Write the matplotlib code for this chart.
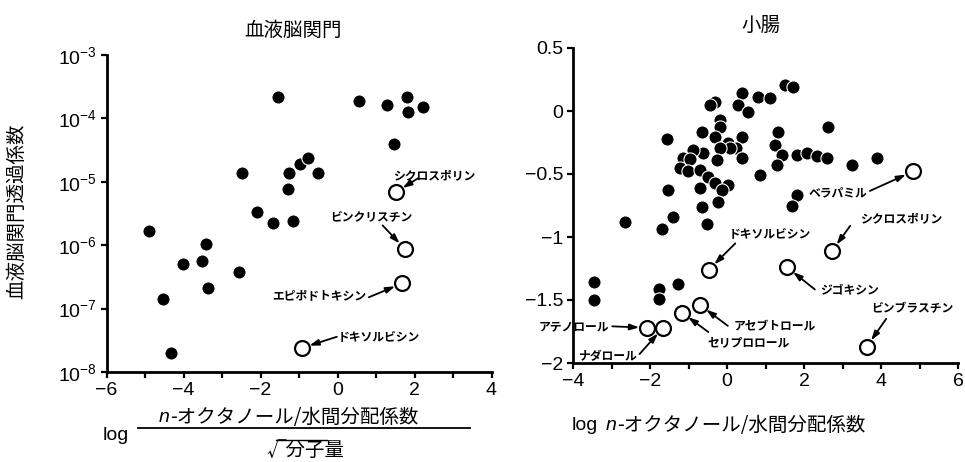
import matplotlib
matplotlib.use("Agg")
import matplotlib.pyplot as plt
from matplotlib.ticker import FixedLocator, NullLocator, FuncFormatter
from matplotlib.lines import Line2D

plt.rcParams['font.family'] = ['Liberation Sans', 'Noto Sans CJK JP', 'DejaVu Sans']
plt.rcParams['mathtext.fontset'] = 'custom'
plt.rcParams['mathtext.rm'] = 'Liberation Sans'
plt.rcParams['axes.unicode_minus'] = True

JP = ['Noto Sans CJK JP', 'DejaVu Sans']

# 血液脳関門 (左): 黒丸
bbb_x = [-1.55, 0.56, 1.29, 1.81, 1.83, 2.22, 1.47, -2.48, -1.26, -0.97, -0.77, -0.51,
         -1.29, -2.09, -1.68, -1.16, -4.90, -3.42, -4.01, -3.52, -2.56, -3.36, -4.53, -4.32]
bbb_p = [2.2e-4, 1.9e-4, 1.6e-4, 2.2e-4, 1.26e-4, 1.5e-4, 4.0e-5, 1.4e-5, 1.4e-5, 1.9e-5,
         2.4e-5, 1.4e-5, 7.7e-6, 3.3e-6, 2.2e-6, 2.4e-6, 1.65e-6, 1.04e-6, 5.0e-7, 5.6e-7,
         3.8e-7, 2.1e-7, 1.4e-7, 2.0e-8]
# 白丸 (名前付き)
bbb_names = ['シクロスポリン', 'ビンクリスチン', 'エピポドトキシン', 'ドキソルビシン']
bbb_open_x = [1.52, 1.75, 1.68, -0.92]
bbb_open_p = [6.9e-6, 8.7e-7, 2.5e-7, 2.4e-8]

# 小腸 (右): 黒丸
si_x = [0.39, 0.81, 1.12, -0.31, -0.44, 0.29, 0.55, -0.18, -0.18, -1.56, -0.65, -0.31,
        0.39, 0.03, 0.23, 0.08, -0.18, -0.62, -0.88, -1.14, -0.96, -0.26, 0.39, -1.22,
        -1.01, -0.70, -0.49, -0.31, 0.03, -0.13, -0.70, -1.53, -0.23, -0.65, 0.86, -1.40,
        1.25, 1.32, 1.51, 1.71, 1.43, 1.82, 2.08, 2.34, 2.60, 2.62, 3.25, 3.90, 1.30,
        1.82, 1.69, -1.69, -2.65, -0.52, -3.45, -3.45, -1.77, -1.77, -1.27]
si_y = [0.14, 0.11, 0.10, 0.07, 0.05, 0.05, -0.01, -0.07, -0.13, -0.22, -0.17, -0.21,
        -0.21, -0.25, -0.29, -0.29, -0.29, -0.33, -0.31, -0.37, -0.38, -0.39, -0.37, -0.45,
        -0.48, -0.47, -0.52, -0.57, -0.59, -0.63, -0.61, -0.63, -0.72, -0.76, -0.51, -0.84,
        -0.27, -0.17, 0.21, 0.19, -0.35, -0.35, -0.33, -0.36, -0.37, -0.13, -0.43, -0.37, -0.43,
        -0.67, -0.75, -0.94, -0.88, -0.90, -1.36, -1.50, -1.41, -1.49, -1.37]
# 白丸 (名前付き)
si_names = ['ベラパミル', 'シクロスポリン', 'ドキソルビシン', 'ジゴキシン', 'ビンブラスチン',
            'アセブトロール', 'セリプロロール', 'アテノロール', 'ナダロール']
si_open_x = [4.83, 2.73, -0.47, 1.56, 3.63, -0.70, -1.17, -2.08, -1.66]
si_open_y = [-0.48, -1.11, -1.26, -1.24, -1.87, -1.54, -1.60, -1.72, -1.72]

# ラベル配置 (offset points): text offset, ha, arrow start
bbb_layout = [((-2, 12), 'left', (16, 10)),
              ((-24, 23), 'center', (-16, 17)),
              ((-26, -9), 'right', (-24, -10)),
              ((26, 8), 'left', (25, 8))]
si_layout = [((-33, -15), 'right', (-31, -14)),
             ((50, 23), 'center', (13, 18)),
             ((44, 26), 'center', (19, 19)),
             ((24, -17), 'left', (20, -16)),
             ((33, 27), 'center', (14, 20)),
             ((24, -15), 'left', (20, -15)),
             ((18, -22), 'left', (19, -14)),
             ((-27, 1), 'right', (-25, 1)),
             ((-18, -21), 'right', (-17, -19))]

W, H = 965, 462
fig = plt.figure(figsize=(9.65, 4.62), dpi=100)
ax1 = fig.add_axes([106.5 / W, 1 - 372 / H, 385 / W, 317 / H])
ax2 = fig.add_axes([573 / W, 1 - 363 / H, 385 / W, 315 / H])


def fmt(v, p):
    return '{:g}'.format(v).replace('-', '\u2212')


def style_axes(ax):
    for s in ['top', 'right']:
        ax.spines[s].set_visible(False)
    for s in ['left', 'bottom']:
        ax.spines[s].set_linewidth(2.0)
        ax.spines[s].set_clip_on(False)
    ax.tick_params(which='both', direction='out', width=1.6, length=4, labelsize=14, pad=3)
    ax.patch.set_alpha(0)


def label_points(ax, xs, ys, names, layout):
    for x, y, name, (toff, ha, aoff) in zip(xs, ys, names, layout):
        ax.annotate(name, xy=(x, y), xytext=toff, textcoords='offset points',
                    ha=ha, va='center', fontsize=8.5, fontweight='bold', family=JP)
        ax.annotate('', xy=(x, y), xytext=aoff, textcoords='offset points',
                    arrowprops=dict(arrowstyle='-|>,head_length=0.55,head_width=0.18',
                                    color='black', lw=1.3, shrinkA=0, shrinkB=5.5))


# 左パネル
ax1.scatter(bbb_x, bbb_p, s=90, c='black', edgecolors='white', linewidths=0.8, zorder=3)
ax1.scatter(bbb_open_x, bbb_open_p, s=115, facecolors='white', edgecolors='black',
            linewidths=1.6, zorder=3)
ax1.set_yscale('log')
ax1.set_ylim(1e-8, 1e-3)
ax1.set_xlim(-6, 4)
ax1.yaxis.set_minor_locator(NullLocator())
ax1.xaxis.set_major_locator(FixedLocator([-6, -4, -2, 0, 2, 4]))
ax1.xaxis.set_minor_locator(FixedLocator([-5, -3, -1, 1, 3]))
ax1.xaxis.set_major_formatter(FuncFormatter(fmt))
style_axes(ax1)
label_points(ax1, bbb_open_x, bbb_open_p, bbb_names, bbb_layout)

# 右パネル
ax2.scatter(si_x, si_y, s=90, c='black', edgecolors='white', linewidths=0.8, zorder=3)
ax2.scatter(si_open_x, si_open_y, s=115, facecolors='white', edgecolors='black',
            linewidths=1.6, zorder=3)
ax2.set_xlim(-4, 6)
ax2.set_ylim(-2, 0.5)
ax2.xaxis.set_major_locator(FixedLocator([-4, -2, 0, 2, 4, 6]))
ax2.xaxis.set_minor_locator(FixedLocator([-3, -1, 1, 3, 5]))
ax2.yaxis.set_major_locator(FixedLocator([-2, -1.5, -1, -0.5, 0, 0.5]))
ax2.yaxis.set_major_formatter(FuncFormatter(fmt))
ax2.xaxis.set_major_formatter(FuncFormatter(fmt))
style_axes(ax2)
label_points(ax2, si_open_x, si_open_y, si_names, si_layout)

# タイトル
fig.text(293 / W, 1 - 30 / H, '血液脳関門', ha='center', va='center', fontsize=14, family=JP)
fig.text(761 / W, 1 - 25 / H, '小腸', ha='center', va='center', fontsize=14, family=JP)

# 左 y 軸ラベル
fig.text(17 / W, 1 - 211 / H, '血液脳関門透過係数', rotation=90, ha='center', va='center',
         fontsize=14, family=JP)

# 左 x 軸ラベル (分数)
fig.text(116 / W, 1 - 436 / H, 'log', ha='center', va='center', fontsize=14)
fig.text(170 / W, 1 - 417 / H, 'n', ha='right', va='center', fontsize=14, style='italic')
fig.text(170 / W, 1 - 417 / H, '-オクタノール/水間分配係数', ha='left', va='center',
         fontsize=14, family=JP)
fig.add_artist(Line2D([138 / W, 470 / W], [1 - 428 / H, 1 - 428 / H], color='black',
                      lw=1.3, transform=fig.transFigure))
fig.text(266 / W, 1 - 450 / H, '√分子量', ha='left', va='center', fontsize=14, family=JP)
fig.add_artist(Line2D([276 / W, 327 / W], [1 - 440 / H, 1 - 440 / H], color='black',
                      lw=1.0, transform=fig.transFigure))

# 右 x 軸ラベル
fig.text(572 / W, 1 - 425 / H, 'log', ha='left', va='center', fontsize=14)
fig.text(617 / W, 1 - 425 / H, 'n', ha='right', va='center', fontsize=14, style='italic')
fig.text(617 / W, 1 - 425 / H, '-オクタノール/水間分配係数', ha='left', va='center',
         fontsize=14, family=JP)

fig.savefig('out.png', dpi=100)
